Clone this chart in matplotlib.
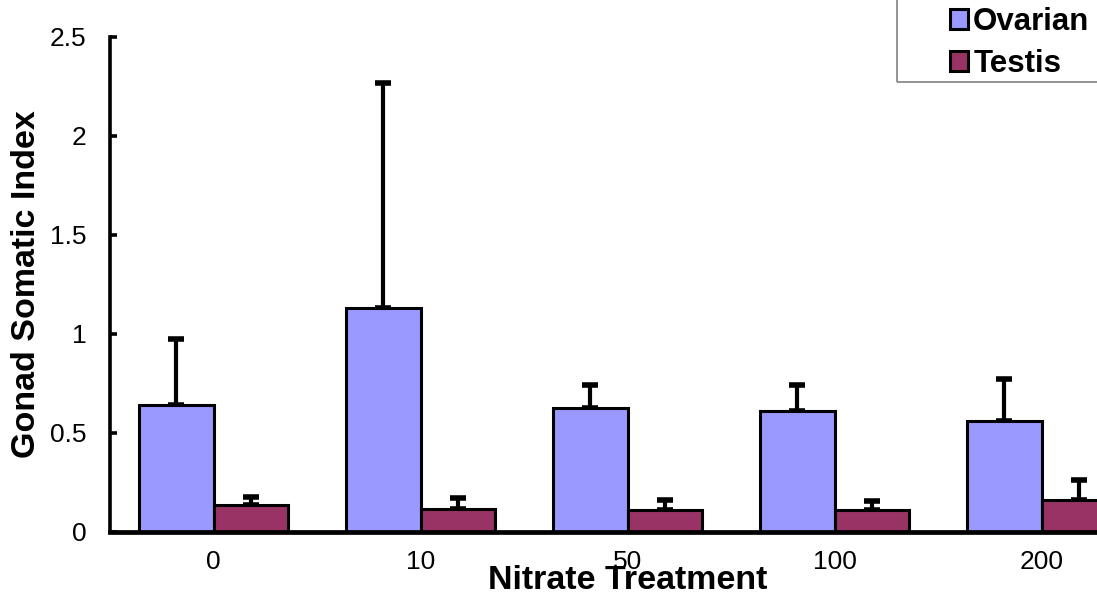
import matplotlib
matplotlib.use("Agg")
import matplotlib.pyplot as plt
import numpy as np
from matplotlib.patches import Rectangle

plt.rcParams["font.family"] = ["Liberation Sans", "DejaVu Sans"]

treatments = ["0", "10", "50", "100", "200"]
ovarian_mean = [0.641, 1.129, 0.626, 0.611, 0.558]
ovarian_err = [0.334, 1.136, 0.114, 0.129, 0.212]
testis_mean = [0.136, 0.116, 0.111, 0.109, 0.159]
testis_err = [0.036, 0.051, 0.046, 0.045, 0.101]

OVARIAN_COLOR = "#9999ff"
TESTIS_COLOR = "#993366"

fig = plt.figure(figsize=(10.97, 6.08), dpi=100)
axis = fig.add_axes([110 / 1097, 76.5 / 608, 1035 / 1097, 494.5 / 608])

x = np.arange(len(treatments))
width = 0.358

err_style = dict(fmt="none", ecolor="black", elinewidth=3.0, capsize=5.5, capthick=4.0)
axis.errorbar(x - width / 2, ovarian_mean, yerr=[np.zeros(len(x)), ovarian_err], **err_style)
axis.errorbar(x + width / 2, testis_mean, yerr=[np.zeros(len(x)), testis_err], **err_style)
axis.bar(x - width / 2, ovarian_mean, width, color=OVARIAN_COLOR, edgecolor="black",
         linewidth=2.2, label="Ovarian", zorder=3)
axis.bar(x + width / 2, testis_mean, width, color=TESTIS_COLOR, edgecolor="black",
         linewidth=2.2, label="Testis", zorder=3)

axis.set_xlim(-0.5, 4.5)
axis.set_ylim(0, 2.5)
axis.set_yticks([0, 0.5, 1, 1.5, 2, 2.5])
axis.set_yticklabels(["0", "0.5", "1", "1.5", "2", "2.5"])
axis.set_xticks(x)
axis.set_xticklabels(treatments)

for side in ["top", "right"]:
    axis.spines[side].set_visible(False)
axis.spines["left"].set_linewidth(2.6)
axis.spines["bottom"].set_linewidth(3.4)
axis.spines["bottom"].set_zorder(4)

axis.tick_params(axis="y", direction="in", length=5, width=2.6, pad=17, labelsize=19)
axis.tick_params(axis="x", length=0, pad=13, labelsize=19)

axis.set_ylabel("Gonad Somatic Index", fontsize=24.5, fontweight="bold")
axis.yaxis.set_label_coords(-0.066, 0.5)
axis.set_xlabel("Nitrate Treatment", fontsize=24.5, fontweight="bold")
axis.xaxis.set_label_coords(0.5, -0.068)

legend = fig.legend(
    loc="upper left",
    bbox_to_anchor=(950 / 1097, 1 - 7 / 608),
    frameon=False,
    prop={"weight": "bold", "size": 22.5},
    handlelength=0.58,
    handleheight=0.58,
    handletextpad=0.16,
    labelspacing=0.38,
    borderpad=0,
    borderaxespad=0,
)
fig.add_artist(Rectangle((897 / 1097, 1 - 82 / 608), 0.3, 0.3, transform=fig.transFigure,
                         fill=False, edgecolor="#808080", linewidth=1.2))

fig.savefig("out.png", dpi=100)
